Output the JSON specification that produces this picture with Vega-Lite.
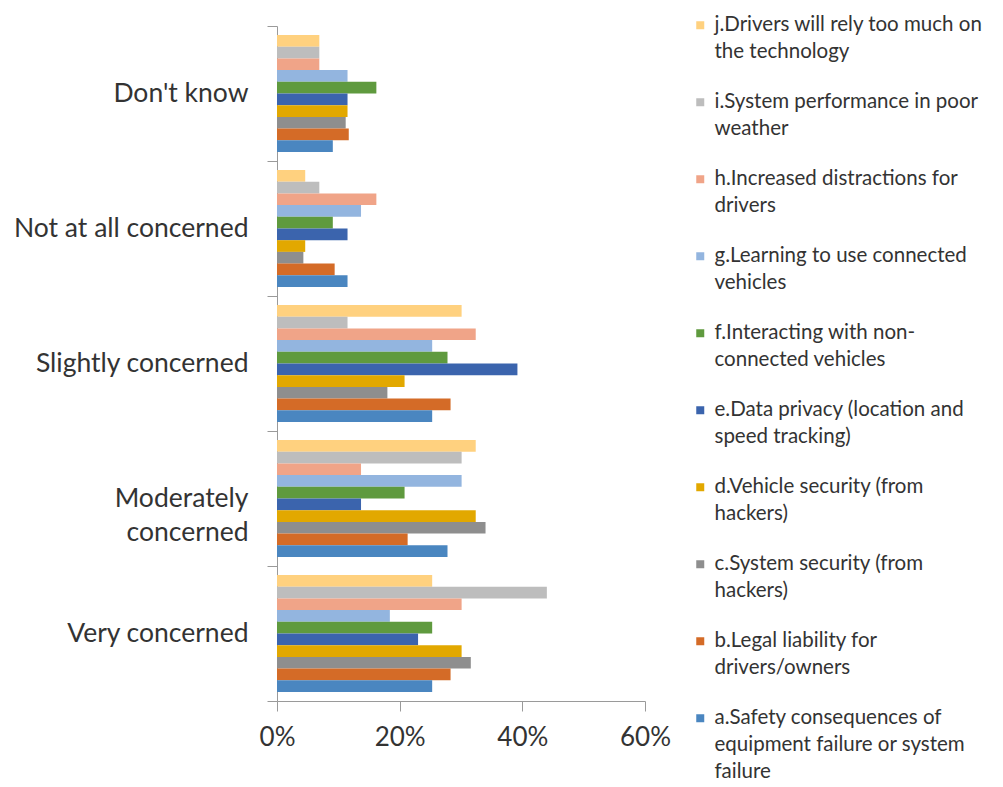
{
  "$schema": "https://vega.github.io/schema/vega-lite/v6.json",
  "width": 368,
  "height": 675,
  "autosize": "none",
  "padding": {"left": 277, "top": 26, "right": 358, "bottom": 86},
  "background": "white",
  "config": {
    "view": {"stroke": null},
    "font": "Lato",
    "style": {"guide-label": {"lineHeight": 27}}
  },
  "data": {
    "values": [
      {"response": "Don't know", "item": "j.Drivers will rely too much on the technology", "pct": 0.069},
      {"response": "Don't know", "item": "i.System performance in poor weather", "pct": 0.069},
      {"response": "Don't know", "item": "h.Increased distractions for drivers", "pct": 0.069},
      {"response": "Don't know", "item": "g.Learning to use connected vehicles", "pct": 0.115},
      {"response": "Don't know", "item": "f.Interacting with non-connected vehicles", "pct": 0.162},
      {"response": "Don't know", "item": "e.Data privacy (location and speed tracking)", "pct": 0.115},
      {"response": "Don't know", "item": "d.Vehicle security (from hackers)", "pct": 0.115},
      {"response": "Don't know", "item": "c.System security (from hackers)", "pct": 0.112},
      {"response": "Don't know", "item": "b.Legal liability for drivers/owners", "pct": 0.117},
      {"response": "Don't know", "item": "a.Safety consequences of equipment failure or system failure", "pct": 0.091},
      {"response": "Not at all concerned", "item": "j.Drivers will rely too much on the technology", "pct": 0.046},
      {"response": "Not at all concerned", "item": "i.System performance in poor weather", "pct": 0.069},
      {"response": "Not at all concerned", "item": "h.Increased distractions for drivers", "pct": 0.162},
      {"response": "Not at all concerned", "item": "g.Learning to use connected vehicles", "pct": 0.137},
      {"response": "Not at all concerned", "item": "f.Interacting with non-connected vehicles", "pct": 0.091},
      {"response": "Not at all concerned", "item": "e.Data privacy (location and speed tracking)", "pct": 0.115},
      {"response": "Not at all concerned", "item": "d.Vehicle security (from hackers)", "pct": 0.046},
      {"response": "Not at all concerned", "item": "c.System security (from hackers)", "pct": 0.043},
      {"response": "Not at all concerned", "item": "b.Legal liability for drivers/owners", "pct": 0.094},
      {"response": "Not at all concerned", "item": "a.Safety consequences of equipment failure or system failure", "pct": 0.115},
      {"response": "Slightly concerned", "item": "j.Drivers will rely too much on the technology", "pct": 0.301},
      {"response": "Slightly concerned", "item": "i.System performance in poor weather", "pct": 0.115},
      {"response": "Slightly concerned", "item": "h.Increased distractions for drivers", "pct": 0.324},
      {"response": "Slightly concerned", "item": "g.Learning to use connected vehicles", "pct": 0.253},
      {"response": "Slightly concerned", "item": "f.Interacting with non-connected vehicles", "pct": 0.278},
      {"response": "Slightly concerned", "item": "e.Data privacy (location and speed tracking)", "pct": 0.392},
      {"response": "Slightly concerned", "item": "d.Vehicle security (from hackers)", "pct": 0.208},
      {"response": "Slightly concerned", "item": "c.System security (from hackers)", "pct": 0.180},
      {"response": "Slightly concerned", "item": "b.Legal liability for drivers/owners", "pct": 0.283},
      {"response": "Slightly concerned", "item": "a.Safety consequences of equipment failure or system failure", "pct": 0.253},
      {"response": "Moderately concerned", "item": "j.Drivers will rely too much on the technology", "pct": 0.324},
      {"response": "Moderately concerned", "item": "i.System performance in poor weather", "pct": 0.301},
      {"response": "Moderately concerned", "item": "h.Increased distractions for drivers", "pct": 0.137},
      {"response": "Moderately concerned", "item": "g.Learning to use connected vehicles", "pct": 0.301},
      {"response": "Moderately concerned", "item": "f.Interacting with non-connected vehicles", "pct": 0.208},
      {"response": "Moderately concerned", "item": "e.Data privacy (location and speed tracking)", "pct": 0.137},
      {"response": "Moderately concerned", "item": "d.Vehicle security (from hackers)", "pct": 0.324},
      {"response": "Moderately concerned", "item": "c.System security (from hackers)", "pct": 0.340},
      {"response": "Moderately concerned", "item": "b.Legal liability for drivers/owners", "pct": 0.213},
      {"response": "Moderately concerned", "item": "a.Safety consequences of equipment failure or system failure", "pct": 0.278},
      {"response": "Very concerned", "item": "j.Drivers will rely too much on the technology", "pct": 0.253},
      {"response": "Very concerned", "item": "i.System performance in poor weather", "pct": 0.440},
      {"response": "Very concerned", "item": "h.Increased distractions for drivers", "pct": 0.301},
      {"response": "Very concerned", "item": "g.Learning to use connected vehicles", "pct": 0.184},
      {"response": "Very concerned", "item": "f.Interacting with non-connected vehicles", "pct": 0.253},
      {"response": "Very concerned", "item": "e.Data privacy (location and speed tracking)", "pct": 0.230},
      {"response": "Very concerned", "item": "d.Vehicle security (from hackers)", "pct": 0.301},
      {"response": "Very concerned", "item": "c.System security (from hackers)", "pct": 0.316},
      {"response": "Very concerned", "item": "b.Legal liability for drivers/owners", "pct": 0.283},
      {"response": "Very concerned", "item": "a.Safety consequences of equipment failure or system failure", "pct": 0.253}
    ]
  },
  "mark": {"type": "bar"},
  "encoding": {
    "y": {
      "field": "response",
      "type": "nominal",
      "sort": ["Don't know", "Not at all concerned", "Slightly concerned", "Moderately concerned", "Very concerned"],
      "scale": {"paddingInner": 0, "paddingOuter": 0},
      "axis": {
        "title": null,
        "tickBand": "extent",
        "domainColor": "#9a9a9a",
        "tickColor": "#9a9a9a",
        "tickSize": 10,
        "labelFontSize": 26.5,
        "labelColor": "#333333",
        "labelPadding": 19,
        "labelLimit": 400,
        "labelLineHeight": 34,
        "labelExpr": "datum.label == 'Moderately concerned' ? ['Moderately', 'concerned'] : datum.label"
      }
    },
    "yOffset": {
      "field": "item",
      "type": "nominal",
      "sort": "descending",
      "scale": {"paddingInner": 0, "paddingOuter": 0.77}
    },
    "x": {
      "field": "pct",
      "type": "quantitative",
      "scale": {"domain": [0, 0.6], "nice": false},
      "axis": {
        "title": null,
        "values": [0, 0.2, 0.4, 0.6],
        "format": ".0%",
        "grid": false,
        "domainColor": "#9a9a9a",
        "tickColor": "#9a9a9a",
        "tickSize": 10,
        "labelFontSize": 26,
        "labelColor": "#333333",
        "labelPadding": 13,
        "labelFlush": false
      }
    },
    "color": {
      "field": "item",
      "type": "nominal",
      "scale": {
        "domain": [
          "j.Drivers will rely too much on the technology",
          "i.System performance in poor weather",
          "h.Increased distractions for drivers",
          "g.Learning to use connected vehicles",
          "f.Interacting with non-connected vehicles",
          "e.Data privacy (location and speed tracking)",
          "d.Vehicle security (from hackers)",
          "c.System security (from hackers)",
          "b.Legal liability for drivers/owners",
          "a.Safety consequences of equipment failure or system failure"
        ],
        "range": ["#FFD17F", "#BDBDBD", "#F0A488", "#93B5DF", "#5F9A3E", "#3B64AD", "#E2A800", "#8E8E8E", "#D46B27", "#4A86C0"]
      },
      "legend": {
        "title": null,
        "orient": "none",
        "legendX": 413,
        "legendY": -11,
        "symbolType": "square",
        "symbolSize": 64,
        "symbolStrokeWidth": 0,
        "labelFontSize": 20.5,
        "labelColor": "#333333",
        "labelLimit": 400,
        "labelOffset": 4,
        "labelBaseline": "top",
        "rowPadding": 29,
        "encoding": {"labels": {"dy": {"value": -10}}},
        "labelExpr": "datum.label == 'j.Drivers will rely too much on the technology' ? ['j.Drivers will rely too much on', 'the technology'] : datum.label == 'i.System performance in poor weather' ? ['i.System performance in poor', 'weather'] : datum.label == 'h.Increased distractions for drivers' ? ['h.Increased distractions for', 'drivers'] : datum.label == 'g.Learning to use connected vehicles' ? ['g.Learning to use connected', 'vehicles'] : datum.label == 'f.Interacting with non-connected vehicles' ? ['f.Interacting with non-', 'connected vehicles'] : datum.label == 'e.Data privacy (location and speed tracking)' ? ['e.Data privacy (location and', 'speed tracking)'] : datum.label == 'd.Vehicle security (from hackers)' ? ['d.Vehicle security (from', 'hackers)'] : datum.label == 'c.System security (from hackers)' ? ['c.System security (from', 'hackers)'] : datum.label == 'b.Legal liability for drivers/owners' ? ['b.Legal liability for', 'drivers/owners'] : ['a.Safety consequences of', 'equipment failure or system', 'failure']"
      }
    }
  }
}
